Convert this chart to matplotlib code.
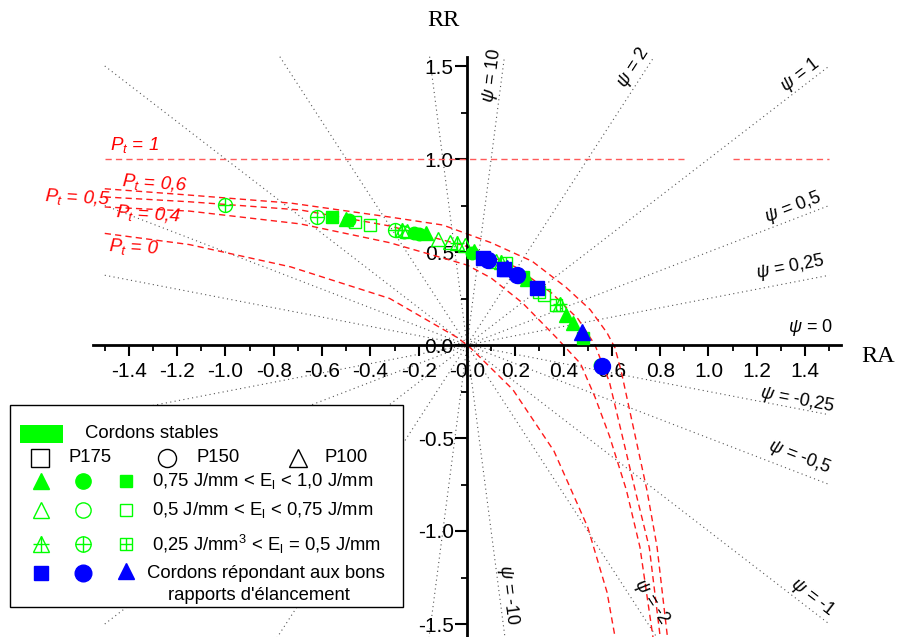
import matplotlib.pyplot as plt
from matplotlib.patches import Rectangle
import numpy as np

plt.rcParams['font.family'] = ['Liberation Sans', 'DejaVu Sans']
plt.rcParams['mathtext.fontset'] = 'custom'
plt.rcParams['mathtext.rm'] = 'Liberation Sans'
plt.rcParams['mathtext.it'] = 'Liberation Sans:italic'

# --- reference lines psi = RR / RA
psi_vals = [10, 2, 1, 0.5, 0.25, 0, -0.25, -0.5, -1, -2, -10]
psi_text = ['10', '2', '1', '0,5', '0,25', '0', '-0,25', '-0,5', '-1', '-2', '-10']

# --- P_t curves
pt1_segs = [(-1.50, 0.90), (1.10, 1.50)]
pt1_rr = 1.0
pt06_ra = [-1.50, -1.15, -0.73, -0.32, -0.10, 0.10, 0.27, 0.41, 0.51, 0.58, 0.613, 0.64, 0.70, 0.745, 0.787, 0.83]
pt06_rr = [0.84, 0.806, 0.763, 0.688, 0.645, 0.55, 0.45, 0.31, 0.19, 0.065, -0.016, -0.15, -0.51, -0.78, -1.086, -1.57]
pt05_ra = [-1.50, -1.15, -0.69, -0.32, 0.0, 0.20, 0.35, 0.46, 0.53, 0.59, 0.645, 0.70, 0.755, 0.80]
pt05_rr = [0.796, 0.77, 0.726, 0.64, 0.53, 0.42, 0.28, 0.14, 0.0, -0.20, -0.50, -0.80, -1.09, -1.57]
pt04_ra = [-1.50, -1.15, -0.69, -0.32, 0.0, 0.10, 0.23, 0.37, 0.47, 0.53, 0.59, 0.66, 0.716, 0.77]
pt04_rr = [0.742, 0.72, 0.651, 0.55, 0.43, 0.36, 0.226, 0.04, -0.10, -0.28, -0.49, -0.78, -1.086, -1.57]
pt0_ra = [-1.50, -1.15, -0.73, -0.32, -0.04, 0.01, 0.19, 0.36, 0.50, 0.58, 0.613]
pt0_rr = [0.60, 0.54, 0.42, 0.25, 0.04, -0.01, -0.24, -0.57, -0.98, -1.33, -1.57]

# --- green points (stable beads)
fill_tri_ra = [-0.50, -0.17, 0.03, 0.25, 0.41, 0.44]
fill_tri_rr = [0.680, 0.603, 0.505, 0.355, 0.162, 0.12]
fill_circ_ra = [-0.49, -0.22, -0.20, 0.02, 0.55]
fill_circ_rr = [0.670, 0.603, 0.598, 0.495, -0.11]
fill_sq_ra = [-0.56, 0.23, 0.48]
fill_sq_rr = [0.686, 0.365, 0.038]
open_tri_ra = [-0.25, -0.12, -0.07, -0.01, 0.12]
open_tri_rr = [0.612, 0.570, 0.553, 0.540, 0.452]
open_circ_ra = [-0.26]
open_circ_rr = [0.610]
open_sq_ra = [-0.465, -0.40, 0.30, 0.318]
open_sq_rr = [0.662, 0.645, 0.285, 0.268]
cross_tri_ra = [-0.27, -0.04, 0.14, 0.385]
cross_tri_rr = [0.617, 0.548, 0.446, 0.22]
cross_circ_ra = [-1.00, -0.62, -0.30]
cross_circ_rr = [0.755, 0.690, 0.620]
cross_sq_ra = [0.37, 0.16]
cross_sq_rr = [0.215, 0.44]

# --- blue points (good aspect ratios)
blue_sq_ra = [0.066, 0.155, 0.29]
blue_sq_rr = [0.470, 0.408, 0.306]
blue_circ_ra = [0.087, 0.207, 0.559]
blue_circ_rr = [0.457, 0.376, -0.112]
blue_tri_ra = [0.166, 0.476]
blue_tri_rr = [0.414, 0.070]

xticks = np.round(np.arange(-1.4, 1.41, 0.2), 1)
yticks = [-1.5, -1.0, -0.5, 0.0, 0.5, 1.0, 1.5]

GREEN = '#00ff00'
BLUE = '#0000ff'
W, H = 900, 637
x0, sx = 467, 241.5
y0, sy = 345, 186

fig = plt.figure(figsize=(9, 6.37), dpi=100)
ax = fig.add_axes([0, 0, 1, 1])
ax.set_xlim(-x0 / sx, (W - x0) / sx)
ax.set_ylim(-(H - y0) / sy, y0 / sy)


def P(x, y):
    return x / W, 1 - y / H


# axes through origin
for s in ['top', 'right']:
    ax.spines[s].set_visible(False)
ax.spines['left'].set_position(('data', 0))
ax.spines['bottom'].set_position(('data', 0))
ax.spines['left'].set_bounds(-1.60, 1.55)
ax.spines['bottom'].set_bounds(-1.55, 1.55)
for s in ['left', 'bottom']:
    ax.spines[s].set_linewidth(2)
    ax.spines[s].set_zorder(3)
ax.set_xticks(xticks)
ax.set_xticklabels(['%.1f' % v for v in xticks])
ax.set_xticks(np.round(np.arange(-1.5, 1.51, 0.2), 1), minor=True)
ax.set_yticks(yticks)
ax.set_yticklabels(['%.1f' % v for v in yticks])
ax.set_yticks([-1.25, -0.75, -0.25, 0.25, 0.75, 1.25], minor=True)
ax.tick_params(axis='x', which='major', direction='out', length=8, width=1.5, labelsize=15, pad=4)
ax.tick_params(axis='x', which='minor', direction='out', length=4.5, width=1.3)
ax.tick_params(axis='y', which='major', direction='out', length=9, width=1.5, labelsize=15, pad=0.5)
ax.tick_params(axis='y', which='minor', direction='out', length=4.5, width=1.3)

ax.text(*P(443, 20), 'RR', transform=ax.transAxes, family='Liberation Serif', fontsize=17.5,
        ha='center', va='center')
ax.text(*P(861, 356), 'RA', transform=ax.transAxes, family='Liberation Serif', fontsize=17.5,
        ha='left', va='center')

# psi lines through the origin
for m in psi_vals:
    if m == 0:
        xa, xb = -1.5, 1.5
    elif m > 0:
        xa, xb = -min(1.5, 1.60 / m), min(1.5, 1.55 / m)
    else:
        xa, xb = -min(1.5, 1.55 / -m), min(1.5, 1.60 / -m)
    ax.plot([xa, xb], [m * xa, m * xb], color='#555555', lw=0.8,
            linestyle=(0, (1, 3)), zorder=1)

psi_pos = [(492, 75), (633, 68), (800, 75), (793, 207), (790, 267), (810, 328),
           (797, 400), (800, 457), (813, 597), (652, 602), (508, 595)]
for m, t, (px, py) in zip(psi_vals, psi_text, psi_pos):
    rot = np.degrees(np.arctan(m * sy / sx))
    ax.text(*P(px, py), r'$\psi$ = ' + t, transform=ax.transAxes, fontsize=13,
            rotation=rot, rotation_mode='anchor', ha='center', va='center')

# P_t curves
dash = dict(color='#ff1a1a', lw=1.0, linestyle=(0, (4.5, 3)), zorder=2)
for a, b in pt1_segs:
    ax.plot([a, b], [pt1_rr, pt1_rr], color='#ff5a5a', lw=1.0, linestyle=(0, (4.5, 3)), zorder=2)
ax.plot(pt06_ra, pt06_rr, **dash)
ax.plot(pt05_ra, pt05_rr, **dash)
ax.plot(pt04_ra, pt04_rr, **dash)
ax.plot(pt0_ra, pt0_rr, **dash)

pt_labels = [('1', (134, 145), 0), ('0,6', (155, 183), -4), ('0,5', (78, 198), -3),
             ('0,4', (148, 214), -4), ('0', (134, 247), -3)]
for t, (px, py), rot in pt_labels:
    ax.text(*P(px, py), r'$P_t$ = ' + t, transform=ax.transAxes, fontsize=13.5,
            fontstyle='italic', color='red', rotation=rot, rotation_mode='anchor',
            ha='center', va='center')


def pts(xs, ys, marker, color, filled, cross=False, ms=9, **kw):
    fc = color if filled else 'none'
    ax.plot(xs, ys, linestyle='none', marker=marker, ms=ms, mfc=fc, mec=color,
            mew=1.0, zorder=4, **kw)
    if cross:
        ax.plot(xs, ys, linestyle='none', marker='+', ms=ms, mec=color, mew=1.0,
                zorder=4, **kw)


pts(fill_tri_ra, fill_tri_rr, '^', GREEN, True, ms=10)
pts(fill_circ_ra, fill_circ_rr, 'o', GREEN, True)
pts(fill_sq_ra, fill_sq_rr, 's', GREEN, True, ms=8)
pts(open_tri_ra, open_tri_rr, '^', GREEN, False, ms=10)
pts(open_circ_ra, open_circ_rr, 'o', GREEN, False)
pts(open_sq_ra, open_sq_rr, 's', GREEN, False, ms=8)
pts(cross_tri_ra, cross_tri_rr, '^', GREEN, False, True, ms=10)
pts(cross_circ_ra, cross_circ_rr, 'o', GREEN, False, True, ms=10)
pts(cross_sq_ra, cross_sq_rr, 's', GREEN, False, True, ms=8)
pts(blue_sq_ra, blue_sq_rr, 's', BLUE, True, ms=10)
pts(blue_circ_ra, blue_circ_rr, 'o', BLUE, True, ms=11.5)
pts(blue_tri_ra, blue_tri_rr, '^', BLUE, True, ms=12)

# legend box
bx0, by0 = P(10, 607)
bx1, by1 = P(403, 405)
ax.add_patch(Rectangle((bx0, by0), bx1 - bx0, by1 - by0, transform=ax.transAxes,
                       fc='white', ec='black', lw=1, zorder=6))
gx0, gy0 = P(20, 443)
gx1, gy1 = P(63, 425)
ax.add_patch(Rectangle((gx0, gy0), gx1 - gx0, gy1 - gy0, transform=ax.transAxes,
                       fc=GREEN, ec='none', zorder=7))
LFS = 13.3
ax.text(*P(85, 433), 'Cordons stables', transform=ax.transAxes, fontsize=LFS,
        ha='left', va='center', zorder=7)


def lmark(px, py, marker, color, filled, cross=False, ms=11):
    x, y = P(px, py)
    fc = color if filled else 'white'
    ax.plot([x], [y], marker=marker, ms=ms, mfc=fc, mec=color, mew=1.0,
            transform=ax.transAxes, zorder=7, clip_on=False)
    if cross:
        ax.plot([x], [y], marker='+', ms=ms, mec=color, mew=1.0,
                transform=ax.transAxes, zorder=7, clip_on=False)


for px, mk, lab, lx in [(40, 's', 'P175', 68), (167, 'o', 'P150', 197), (298, '^', 'P100', 325)]:
    lmark(px, 458, mk, 'black', False, ms=13)
    ax.text(*P(lx, 458), lab, transform=ax.transAxes, fontsize=LFS, ha='left',
            va='center', zorder=7)

rows = [(481, True, False, r'0,75 J/mm < E$_\mathrm{l}$ < 1,0 J/mm'),
        (510, False, False, r'0,5 J/mm < E$_\mathrm{l}$ < 0,75 J/mm'),
        (544, False, True, r'0,25 J/mm$^3$ < E$_\mathrm{l}$ = 0,5 J/mm')]
for py, filled, cross, lab in rows:
    lmark(41, py, '^', GREEN, filled, cross, ms=12)
    lmark(83, py, 'o', GREEN, filled, cross, ms=11)
    lmark(126, py, 's', GREEN, filled, cross, ms=9)
    ax.text(*P(152, py), lab, transform=ax.transAxes, fontsize=LFS, ha='left',
            va='center', zorder=7)

lmark(41, 573, 's', BLUE, True, ms=10)
lmark(83, 573, 'o', BLUE, True, ms=12)
lmark(126, 571, '^', BLUE, True, ms=12)
ax.text(*P(147, 573), "Cordons répondant aux bons", transform=ax.transAxes,
        fontsize=LFS, ha='left', va='center', zorder=7)
ax.text(*P(168, 596), "rapports d'élancement", transform=ax.transAxes,
        fontsize=LFS, ha='left', va='center', zorder=7)

fig.savefig('out.png', dpi=100)
